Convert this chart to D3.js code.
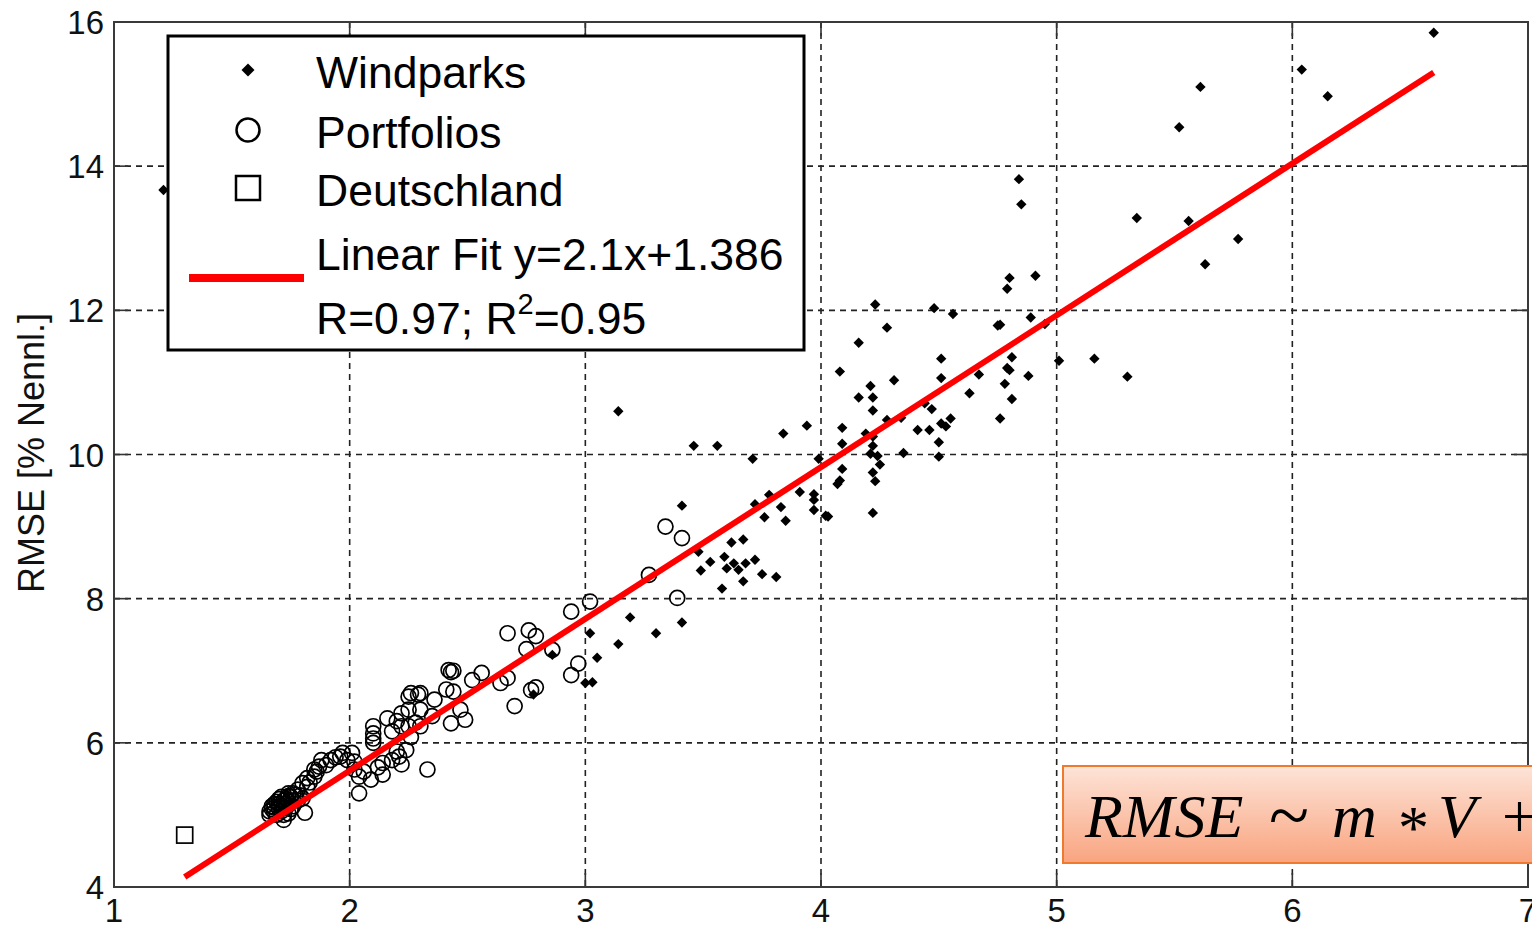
<!DOCTYPE html>
<html>
<head>
<meta charset="utf-8">
<script src="https://d3js.org/d3.v7.min.js"></script>
<style>
  body { margin: 0; background: #fff; }
  svg { display: block; font-family: 'Liberation Sans', Arial, sans-serif; }
  .grid line { stroke: #222; stroke-width: 1.6; stroke-dasharray: 6,5; }
  .tick-label { font-size: 33px; fill: #111; }
  .legend-text { font-size: 44.5px; fill: #000; }
  .formula { font-family: 'Liberation Serif', 'Times New Roman', serif; font-size: 62px; fill: #000; }
</style>
</head>
<body>
<svg id="chart"></svg>
<script>
// --- data (V on x, RMSE [% Nennl.] on y) ---
const windparks = [
  [6.60,15.85],[6.04,15.34],[6.15,14.97],[5.61,15.10],[5.52,14.54],
  [4.84,13.82],[4.85,13.47],[5.34,13.28],[5.56,13.24],[5.77,12.99],[5.63,12.64],
  [4.80,12.45],[4.79,12.30],[4.91,12.48],[4.89,11.90],[4.95,11.81],[4.76,11.80],
  [4.81,11.35],[4.79,11.20],[5.01,11.30],[5.16,11.33],[5.30,11.08],
  [4.23,12.08],[4.48,12.03],[4.56,11.95],[4.28,11.76],[4.75,11.79],[4.16,11.55],
  [4.51,11.33],[4.08,11.15],[4.51,11.06],[4.31,11.03],[4.67,11.11],[4.80,11.17],
  [4.88,11.09],[4.78,10.98],[4.81,10.77],[4.76,10.50],[4.63,10.85],
  [4.21,10.95],[4.16,10.79],[4.22,10.79],[4.22,10.61],[4.44,10.71],[4.47,10.63],
  [4.34,10.51],[4.28,10.48],[4.41,10.34],[4.46,10.34],[4.51,10.43],[4.53,10.39],
  [4.55,10.50],[4.50,10.17],[4.50,9.97],[4.35,10.02],
  [4.09,10.37],[4.09,10.15],[4.19,10.29],[4.22,10.25],[4.22,10.12],[4.21,10.01],
  [4.24,9.98],[4.25,9.86],[4.22,9.75],[4.23,9.63],[4.22,9.19],
  [4.09,9.80],[4.08,9.64],[4.07,9.59],[3.99,9.94],[3.94,10.40],[3.84,10.29],
  [3.91,9.48],[3.97,9.45],[3.97,9.37],[3.97,9.23],[4.02,9.15],[4.03,9.14],
  [3.83,9.27],[3.85,9.08],
  [3.14,10.60],[3.46,10.12],[3.56,10.12],[3.71,9.94],
  [3.72,9.31],[3.78,9.44],[3.76,9.13],[3.41,9.29],[3.48,8.65],[3.62,8.78],
  [3.67,8.82],[3.53,8.51],[3.59,8.58],[3.63,8.49],[3.60,8.42],[3.65,8.40],
  [3.68,8.49],[3.72,8.54],[3.49,8.39],[3.75,8.34],[3.81,8.30],[3.67,8.24],[3.58,8.14],
  [3.19,7.74],[3.41,7.67],[3.14,7.37],[3.30,7.52],[3.02,7.52],[3.05,7.18],
  [3.00,6.83],[3.03,6.84],[2.86,7.22],[2.78,6.67],
  [1.21,13.67]
];

const portfolios = [
  [3.34,9.00],[3.41,8.84],[3.27,8.33],[3.39,8.01],[3.02,7.96],[2.94,7.82],
  [2.97,7.10],[2.94,6.94],[2.86,7.29],[2.76,7.56],[2.79,7.48],[2.67,7.52],
  [2.75,7.30],[2.79,6.77],[2.77,6.73],[2.70,6.51],[2.67,6.90],[2.64,6.83],
  [2.56,6.97],[2.52,6.87],[2.42,7.01],[2.44,7.00],[2.43,6.98],[2.41,6.74],
  [2.44,6.71],[2.47,6.46],[2.43,6.27],[2.49,6.32],[2.36,6.60],[2.30,6.69],
  [2.25,6.64],[2.25,6.46],[2.30,6.46],
  [2.33,5.63],[2.26,6.69],[2.29,6.67],[2.35,6.37],[2.22,6.41],[2.16,6.34],
  [2.10,6.23],[2.10,6.13],[2.10,6.06],[2.10,6.00],[2.18,6.16],[2.22,6.23],
  [2.25,6.23],[2.30,6.23],[2.24,5.90],[2.21,5.81],[2.22,5.70],[2.18,5.76],
  [2.14,5.72],[2.14,5.56],[2.09,5.49],[2.04,5.53],[2.04,5.30],[2.02,5.63],
  [1.99,5.76],[1.96,5.81],[2.02,5.74],[2.01,5.86],[1.92,5.76],[1.90,5.69],
  [1.87,5.67],[1.85,5.63],[1.88,5.76],[1.85,5.53],[1.82,5.51],[1.80,5.44],
  [1.82,5.39],[1.78,5.35],[1.74,5.26],[1.80,5.23],[1.81,5.03],[1.72,4.93],
  [1.66,5.05],[1.68,5.10],[1.70,5.15],[1.72,5.20],[1.74,5.18],[1.69,5.00],
  [1.71,5.05],[1.73,5.10],[1.75,5.25],[1.70,5.22],[1.67,5.12],[1.72,5.00],
  [1.76,5.12],[1.78,5.20],[1.77,5.28],[1.69,5.18],[1.74,5.02],[1.66,5.00],
  [1.67,5.08],[1.68,5.15],[1.70,5.09],[1.71,5.13],[1.71,5.25],[1.73,5.22],
  [1.73,5.15],[1.74,5.30],[1.75,5.08],[1.76,5.20],[1.68,5.04],[1.72,5.10],
  [1.76,5.30],[1.79,5.27],[1.83,5.45],[1.86,5.60],[1.94,5.80],[1.97,5.86],
  [2.06,5.60],[2.12,5.66],[2.20,5.88],[2.26,6.08],[2.28,6.28],[2.20,6.30]
];

const deutschland = [[1.30,4.72]];

// linear fit y = 2.1x + 1.386, endpoints
const fitLine = [[1.30,4.14],[6.60,15.30]];

const xTicks = [1,2,3,4,5,6,7];
const yTicks = [4,6,8,10,12,14,16];

// --- layout ---
const WIDTH  = 1532;
const HEIGHT = 929;
const PLOT   = { left: 114, right: 1528, top: 22, bottom: 887 };
const TICK   = 14;

const svg = d3.select('#chart')
  .attr('width', WIDTH)
  .attr('height', HEIGHT);

const x = d3.scaleLinear().domain([1, 7]).range([PLOT.left, PLOT.right]);
const y = d3.scaleLinear().domain([4, 16]).range([PLOT.bottom, PLOT.top]);

const defs = svg.append('defs');
const grad = defs.append('linearGradient')
  .attr('id', 'boxGrad')
  .attr('x1', 0).attr('y1', 0).attr('x2', 0).attr('y2', 1);
grad.append('stop').attr('offset', '0%').attr('stop-color', '#fde4d8');
grad.append('stop').attr('offset', '100%').attr('stop-color', '#f9a47f');

svg.append('rect')
  .attr('width', WIDTH).attr('height', HEIGHT)
  .attr('fill', '#fff');

// grid
const grid = svg.append('g').attr('class', 'grid');
grid.selectAll('.gx')
  .data(xTicks.slice(1, -1))
  .join('line')
    .attr('x1', d => x(d)).attr('x2', d => x(d))
    .attr('y1', PLOT.top).attr('y2', PLOT.bottom);
grid.selectAll('.gy')
  .data(yTicks.slice(1, -1))
  .join('line')
    .attr('class', 'gy')
    .attr('x1', PLOT.left).attr('x2', PLOT.right)
    .attr('y1', d => y(d)).attr('y2', d => y(d));

// data points
const diamond = d3.symbol(d3.symbolSquare, 54);

svg.append('g')
  .selectAll('path')
  .data(windparks)
  .join('path')
    .attr('d', diamond)
    .attr('transform', d => `translate(${x(d[0])},${y(d[1])}) rotate(45)`)
    .attr('fill', '#000');

svg.append('g')
  .selectAll('circle')
  .data(portfolios)
  .join('circle')
    .attr('cx', d => x(d[0]))
    .attr('cy', d => y(d[1]))
    .attr('r', 7.5)
    .attr('fill', 'none')
    .attr('stroke', '#000')
    .attr('stroke-width', 1.7);

svg.append('g')
  .selectAll('rect')
  .data(deutschland)
  .join('rect')
    .attr('x', d => x(d[0]) - 8)
    .attr('y', d => y(d[1]) - 8)
    .attr('width', 16).attr('height', 16)
    .attr('fill', 'none')
    .attr('stroke', '#000')
    .attr('stroke-width', 1.7);

svg.append('path')
  .datum(fitLine)
  .attr('d', d3.line().x(d => x(d[0])).y(d => y(d[1])))
  .attr('fill', 'none')
  .attr('stroke', '#ff0000')
  .attr('stroke-width', 6);

// frame + inward ticks (all four sides)
const axes = svg.append('g').attr('stroke', '#333').attr('stroke-width', 1.6);
axes.selectAll('.tb')
  .data(xTicks)
  .join('line')
    .attr('x1', d => x(d)).attr('x2', d => x(d))
    .attr('y1', PLOT.bottom).attr('y2', PLOT.bottom - TICK);
axes.selectAll('.tt')
  .data(xTicks)
  .join('line')
    .attr('class', 'tt')
    .attr('x1', d => x(d)).attr('x2', d => x(d))
    .attr('y1', PLOT.top).attr('y2', PLOT.top + TICK);
axes.selectAll('.tl')
  .data(yTicks)
  .join('line')
    .attr('class', 'tl')
    .attr('x1', PLOT.left).attr('x2', PLOT.left + TICK)
    .attr('y1', d => y(d)).attr('y2', d => y(d));
axes.selectAll('.tr')
  .data(yTicks)
  .join('line')
    .attr('class', 'tr')
    .attr('x1', PLOT.right).attr('x2', PLOT.right - TICK)
    .attr('y1', d => y(d)).attr('y2', d => y(d));

svg.append('rect')
  .attr('x', PLOT.left).attr('y', PLOT.top)
  .attr('width', PLOT.right - PLOT.left)
  .attr('height', PLOT.bottom - PLOT.top)
  .attr('fill', 'none')
  .attr('stroke', '#3a3a3a')
  .attr('stroke-width', 2);

// tick labels
svg.append('g')
  .selectAll('text')
  .data(xTicks)
  .join('text')
    .attr('class', 'tick-label')
    .attr('x', d => x(d))
    .attr('y', 922)
    .attr('text-anchor', 'middle')
    .text(d => d);

svg.append('g')
  .selectAll('text')
  .data(yTicks)
  .join('text')
    .attr('class', 'tick-label')
    .attr('x', 104)
    .attr('y', d => y(d) + 12)
    .attr('text-anchor', 'end')
    .text(d => d);

// y axis title
svg.append('text')
  .attr('transform', 'translate(44,453) rotate(-90)')
  .attr('text-anchor', 'middle')
  .style('font-size', '36px')
  .style('fill', '#111')
  .text('RMSE [% Nennl.]');

// legend
const legend = svg.append('g');
legend.append('rect')
  .attr('x', 168).attr('y', 36)
  .attr('width', 636).attr('height', 314)
  .attr('fill', '#fff')
  .attr('stroke', '#000')
  .attr('stroke-width', 3);

legend.append('path')
  .attr('d', d3.symbol(d3.symbolSquare, 84))
  .attr('transform', 'translate(248,70) rotate(45)')
  .attr('fill', '#000');
legend.append('circle')
  .attr('cx', 248).attr('cy', 130).attr('r', 11.5)
  .attr('fill', 'none').attr('stroke', '#000').attr('stroke-width', 2.5);
legend.append('rect')
  .attr('x', 236).attr('y', 176).attr('width', 24).attr('height', 24)
  .attr('fill', 'none').attr('stroke', '#000').attr('stroke-width', 2.5);
legend.append('line')
  .attr('x1', 189).attr('x2', 304)
  .attr('y1', 278).attr('y2', 278)
  .attr('stroke', '#ff0000').attr('stroke-width', 8);

const legendLabels = [
  { text: 'Windparks', y: 88 },
  { text: 'Portfolios', y: 148 },
  { text: 'Deutschland', y: 206 },
  { text: 'Linear Fit y=2.1x+1.386', y: 270 }
];
legend.selectAll('.lt')
  .data(legendLabels)
  .join('text')
    .attr('class', 'legend-text')
    .attr('x', 316)
    .attr('y', d => d.y)
    .text(d => d.text);

const rLine = legend.append('text')
  .attr('class', 'legend-text')
  .attr('x', 316).attr('y', 334);
rLine.append('tspan').text('R=0.97; R');
rLine.append('tspan').attr('dy', -20).style('font-size', '29px').text('2');
rLine.append('tspan').attr('dy', 20).text('=0.95');

// formula box
svg.append('rect')
  .attr('x', 1063).attr('y', 766)
  .attr('width', 500).attr('height', 97)
  .attr('fill', 'url(#boxGrad)')
  .attr('stroke', '#ef7a2e')
  .attr('stroke-width', 2);

const glyphs = [
  { t: 'RMSE', x: 1085, y: 837, size: 62, italic: true },
  { t: '~',    x: 1269, y: 840, size: 74, italic: false },
  { t: 'm',    x: 1332, y: 837, size: 62, italic: true },
  { t: '*',    x: 1398, y: 848, size: 62, italic: false },
  { t: 'V',    x: 1438, y: 837, size: 62, italic: true },
  { t: '+',    x: 1502, y: 837, size: 62, italic: false }
];
svg.append('g')
  .selectAll('text')
  .data(glyphs)
  .join('text')
    .attr('class', 'formula')
    .attr('x', d => d.x)
    .attr('y', d => d.y)
    .style('font-size', d => d.size + 'px')
    .style('font-style', d => d.italic ? 'italic' : 'normal')
    .text(d => d.t);
</script>
</body>
</html>
